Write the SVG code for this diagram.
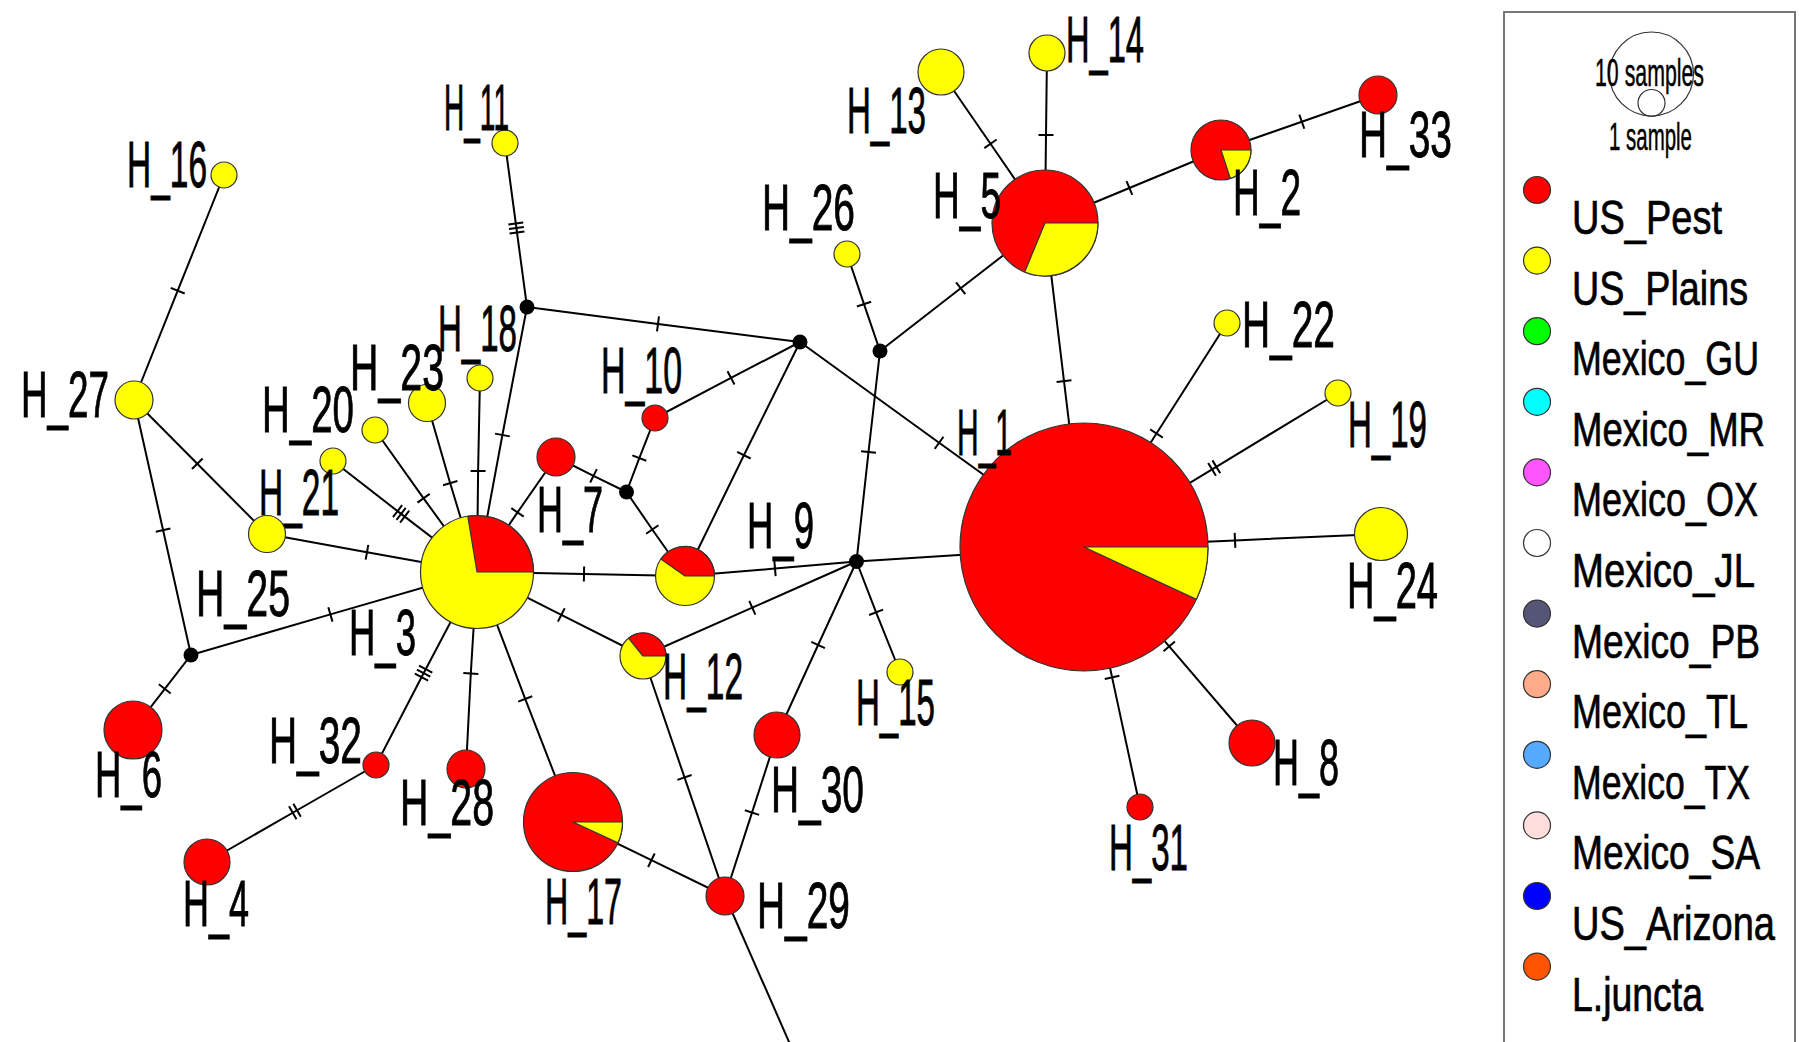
<svg xmlns="http://www.w3.org/2000/svg" width="1799" height="1042" viewBox="0 0 1799 1042">
<style>
.e{stroke:#000;stroke-width:2;fill:none}
.n{stroke:#333;stroke-width:1.2}
.r{fill:#ff0000}
.y{fill:#ffff00}
.w{stroke:#333;stroke-width:1.2;stroke-linejoin:round}
.j{fill:#000}
.l{font-family:"Liberation Sans",Arial,sans-serif;font-size:65px;fill:#000;stroke:#000;stroke-width:0.9}
.lg{font-family:"Liberation Sans",Arial,sans-serif;font-size:49px;fill:#000;stroke:#000;stroke-width:0.7}
.ls{font-family:"Liberation Sans",Arial,sans-serif;font-size:38px;fill:#000;stroke:#000;stroke-width:0.5}
.lc{stroke:#333;stroke-width:1.2}
</style>
<defs>
<marker id="t1" viewBox="-10 -10 20 20" markerWidth="20" markerHeight="20" refX="0" refY="0" orient="auto" markerUnits="userSpaceOnUse"><path d="M0,-7.5V7.5" stroke="#000" stroke-width="2"/></marker>
<marker id="t2" viewBox="-10 -10 20 20" markerWidth="20" markerHeight="20" refX="0" refY="0" orient="auto" markerUnits="userSpaceOnUse"><path d="M-2.5,-7.5V7.5M2.5,-7.5V7.5" stroke="#000" stroke-width="2"/></marker>
<marker id="t3" viewBox="-10 -10 20 20" markerWidth="20" markerHeight="20" refX="0" refY="0" orient="auto" markerUnits="userSpaceOnUse"><path d="M-4.5,-7.5V7.5M0,-7.5V7.5M4.5,-7.5V7.5" stroke="#000" stroke-width="2"/></marker>
</defs>
<rect width="1799" height="1042" fill="#fff"/>
<g id="connectors" class="e">
<path d="M224,175 L177.7,290.7 L134,400" marker-mid="url(#t1)"/>
<path d="M505,143 L516.4,228 L527,307" marker-mid="url(#t3)"/>
<path d="M134,400 L197.3,463.7 L267,534" marker-mid="url(#t1)"/>
<path d="M134,400 L163.1,530.2 L191,655" marker-mid="url(#t1)"/>
<path d="M527,307 L658,323.9 L800,342" marker-mid="url(#t1)"/>
<path d="M527,307 L502.4,435 L477,572" marker-mid="url(#t1)"/>
<path d="M480,378 L478.1,471 L477,572" marker-mid="url(#t1)"/>
<path d="M427,403 L450.2,483.2 L477,572" marker-mid="url(#t1)"/>
<path d="M375,430 L423.6,498.3 L477,572" marker-mid="url(#t1)"/>
<path d="M333,461 L401.1,513.9 L477,572" marker-mid="url(#t3)"/>
<path d="M267,534 L367,552.2 L477,572" marker-mid="url(#t1)"/>
<path d="M191,655 L330.4,614.4 L477,572" marker-mid="url(#t1)"/>
<path d="M191,655 L164.8,688.9 L133,730" marker-mid="url(#t1)"/>
<path d="M477,572 L423.6,673.2 L376,765" marker-mid="url(#t3)"/>
<path d="M376,765 L294.9,811.5 L207,862" marker-mid="url(#t2)"/>
<path d="M477,572 L470.8,673.5 L466,769" marker-mid="url(#t1)"/>
<path d="M477,572 L525.2,698.9 L573,822" marker-mid="url(#t1)"/>
<path d="M477,572 L517.5,512.4 L556,457" marker-mid="url(#t1)"/>
<path d="M556,457 L593.5,475.8 L626.5,492" marker-mid="url(#t1)"/>
<path d="M655,418 L639.3,458.1 L626.5,492" marker-mid="url(#t1)"/>
<path d="M626.5,492 L652.3,529.5 L685,576" marker-mid="url(#t1)"/>
<path d="M655,418 L731,377.9 L800,342" marker-mid="url(#t1)"/>
<path d="M800,342 L743.9,455.2 L685,576" marker-mid="url(#t1)"/>
<path d="M800,342 L939.1,442.8 L1084,547" marker-mid="url(#t1)"/>
<path d="M477,572 L584,574.1 L685,576" marker-mid="url(#t1)"/>
<path d="M477,572 L561.3,614.9 L643,656" marker-mid="url(#t1)"/>
<path d="M685,576 L775,568.6 L856.5,561.5" marker-mid="url(#t1)"/>
<path d="M643,656 L752.3,607.7 L856.5,561.5" marker-mid="url(#t1)"/>
<path d="M643,656 L684.5,777.4 L725,896" marker-mid="url(#t1)"/>
<path d="M573,822 L651.4,860.2 L725,896" marker-mid="url(#t1)"/>
<path d="M725,896 L752,812.6 L777,735" marker-mid="url(#t1)"/>
<path d="M777,735 L818.1,645 L856.5,561.5" marker-mid="url(#t1)"/>
<path d="M856.5,561.5 L876.1,612.3 L900,672" marker-mid="url(#t1)"/>
<path d="M856.5,561.5 L1084,547"/>
<path d="M856.5,561.5 L868.5,452 L880,351" marker-mid="url(#t1)"/>
<path d="M880,351 L864,304.1 L847,254" marker-mid="url(#t1)"/>
<path d="M880,351 L960.7,288.3 L1045,223" marker-mid="url(#t1)"/>
<path d="M1045,223 L990.5,143.8 L941,72" marker-mid="url(#t1)"/>
<path d="M1045,223 L1046,135 L1047,53" marker-mid="url(#t1)"/>
<path d="M1045,223 L1129.4,188 L1221,150" marker-mid="url(#t1)"/>
<path d="M1221,150 L1301.8,121.7 L1378,95" marker-mid="url(#t1)"/>
<path d="M1045,223 L1064,381.1 L1084,547" marker-mid="url(#t1)"/>
<path d="M1084,547 L1156.5,433.5 L1227,323" marker-mid="url(#t1)"/>
<path d="M1084,547 L1214.2,468.1 L1338,393" marker-mid="url(#t2)"/>
<path d="M1084,547 L1235,540.4 L1381,534" marker-mid="url(#t1)"/>
<path d="M1084,547 L1169.2,646.4 L1252,743" marker-mid="url(#t1)"/>
<path d="M1084,547 L1112.1,677.4 L1140,807" marker-mid="url(#t1)"/>
<path d="M725,896 L800,1067"/>
</g>
<g id="median-vectors" class="j">
<circle id="mv1" cx="527" cy="307" r="7.5"/>
<circle id="mv2" cx="800" cy="342" r="7.5"/>
<circle id="mv3" cx="880" cy="351" r="7.5"/>
<circle id="mv4" cx="626.5" cy="492" r="7.5"/>
<circle id="mv5" cx="191" cy="655" r="7.5"/>
<circle id="mv6" cx="856.5" cy="561.5" r="7.5"/>
</g>
<g id="H_1"><circle class="n r" cx="1084" cy="547" r="124"/><path class="w y" d="M1084,547 L1208,547 A124,124 0 0 1 1196.4,599.4 Z"/><text class="l" x="957" y="455" textLength="55" lengthAdjust="spacingAndGlyphs">H_1</text></g>
<g id="H_2"><circle class="n r" cx="1221" cy="150" r="30"/><path class="w y" d="M1221,150 L1251,150 A30,30 0 0 1 1230.3,178.5 Z"/><text class="l" x="1233" y="215" textLength="68" lengthAdjust="spacingAndGlyphs">H_2</text></g>
<g id="H_3"><circle class="n y" cx="477" cy="572" r="56.5"/><path class="w r" d="M477,572 L467.8,516.3 A56.5,56.5 0 0 1 533.5,572 Z"/><text class="l" x="349" y="655" textLength="67" lengthAdjust="spacingAndGlyphs">H_3</text></g>
<g id="H_4"><circle class="n r" cx="207" cy="862" r="23"/><text class="l" x="183" y="926" textLength="66" lengthAdjust="spacingAndGlyphs">H_4</text></g>
<g id="H_5"><circle class="n r" cx="1045" cy="223" r="53"/><path class="w y" d="M1045,223 L1098,223 A53,53 0 0 1 1024.7,272 Z"/><text class="l" x="933" y="218" textLength="68" lengthAdjust="spacingAndGlyphs">H_5</text></g>
<g id="H_6"><circle class="n r" cx="133" cy="730" r="29"/><text class="l" x="95" y="797" textLength="67" lengthAdjust="spacingAndGlyphs">H_6</text></g>
<g id="H_7"><circle class="n r" cx="556" cy="457" r="19"/><text class="l" x="537" y="532" textLength="66" lengthAdjust="spacingAndGlyphs">H_7</text></g>
<g id="H_8"><circle class="n r" cx="1252" cy="743" r="23"/><text class="l" x="1273" y="785" textLength="66" lengthAdjust="spacingAndGlyphs">H_8</text></g>
<g id="H_9"><circle class="n y" cx="685" cy="576" r="29.5"/><path class="w r" d="M685,576 L660.8,559.1 A29.5,29.5 0 0 1 714.5,576 Z"/><text class="l" x="747" y="548" textLength="67" lengthAdjust="spacingAndGlyphs">H_9</text></g>
<g id="H_10"><circle class="n r" cx="655" cy="418" r="13"/><text class="l" x="601" y="393" textLength="81" lengthAdjust="spacingAndGlyphs">H_10</text></g>
<g id="H_11"><circle class="n y" cx="505" cy="143" r="13"/><text class="l" x="444" y="130" textLength="65" lengthAdjust="spacingAndGlyphs">H_11</text></g>
<g id="H_12"><circle class="n y" cx="643" cy="656" r="23"/><path class="w r" d="M643,656 L628.5,638.1 A23,23 0 0 1 666,656 Z"/><text class="l" x="663" y="699" textLength="80" lengthAdjust="spacingAndGlyphs">H_12</text></g>
<g id="H_13"><circle class="n y" cx="941" cy="72" r="23"/><text class="l" x="847" y="133" textLength="79" lengthAdjust="spacingAndGlyphs">H_13</text></g>
<g id="H_14"><circle class="n y" cx="1047" cy="53" r="18"/><text class="l" x="1066" y="62" textLength="78" lengthAdjust="spacingAndGlyphs">H_14</text></g>
<g id="H_15"><circle class="n y" cx="900" cy="672" r="13"/><text class="l" x="856" y="725" textLength="79" lengthAdjust="spacingAndGlyphs">H_15</text></g>
<g id="H_16"><circle class="n y" cx="224" cy="175" r="13"/><text class="l" x="127" y="187" textLength="80" lengthAdjust="spacingAndGlyphs">H_16</text></g>
<g id="H_17"><circle class="n r" cx="573" cy="822" r="49.5"/><path class="w y" d="M573,822 L622.5,822 A49.5,49.5 0 0 1 617.9,842.9 Z"/><text class="l" x="545" y="924" textLength="77" lengthAdjust="spacingAndGlyphs">H_17</text></g>
<g id="H_18"><circle class="n y" cx="480" cy="378" r="13"/><text class="l" x="438" y="351" textLength="79" lengthAdjust="spacingAndGlyphs">H_18</text></g>
<g id="H_19"><circle class="n y" cx="1338" cy="393" r="13"/><text class="l" x="1348" y="447" textLength="79" lengthAdjust="spacingAndGlyphs">H_19</text></g>
<g id="H_20"><circle class="n y" cx="375" cy="430" r="13"/><text class="l" x="262" y="432" textLength="92" lengthAdjust="spacingAndGlyphs">H_20</text></g>
<g id="H_21"><circle class="n y" cx="333" cy="461" r="13"/><text class="l" x="259" y="515" textLength="80" lengthAdjust="spacingAndGlyphs">H_21</text></g>
<g id="H_22"><circle class="n y" cx="1227" cy="323" r="13"/><text class="l" x="1242" y="347" textLength="93" lengthAdjust="spacingAndGlyphs">H_22</text></g>
<g id="H_23"><circle class="n y" cx="427" cy="403" r="18.5"/><text class="l" x="350" y="390" textLength="94" lengthAdjust="spacingAndGlyphs">H_23</text></g>
<g id="H_24"><circle class="n y" cx="1381" cy="534" r="26.5"/><text class="l" x="1347" y="608" textLength="91" lengthAdjust="spacingAndGlyphs">H_24</text></g>
<g id="H_25"><circle class="n y" cx="267" cy="534" r="18.5"/><text class="l" x="196" y="616" textLength="94" lengthAdjust="spacingAndGlyphs">H_25</text></g>
<g id="H_26"><circle class="n y" cx="847" cy="254" r="13"/><text class="l" x="762" y="230" textLength="93" lengthAdjust="spacingAndGlyphs">H_26</text></g>
<g id="H_27"><circle class="n y" cx="134" cy="400" r="19"/><text class="l" x="21" y="417" textLength="88" lengthAdjust="spacingAndGlyphs">H_27</text></g>
<g id="H_28"><circle class="n r" cx="466" cy="769" r="19"/><text class="l" x="400" y="825" textLength="94" lengthAdjust="spacingAndGlyphs">H_28</text></g>
<g id="H_29"><circle class="n r" cx="725" cy="896" r="19"/><text class="l" x="757" y="928" textLength="93" lengthAdjust="spacingAndGlyphs">H_29</text></g>
<g id="H_30"><circle class="n r" cx="777" cy="735" r="23"/><text class="l" x="771" y="812" textLength="93" lengthAdjust="spacingAndGlyphs">H_30</text></g>
<g id="H_31"><circle class="n r" cx="1140" cy="807" r="13"/><text class="l" x="1109" y="870" textLength="79" lengthAdjust="spacingAndGlyphs">H_31</text></g>
<g id="H_32"><circle class="n r" cx="376" cy="765" r="13"/><text class="l" x="269" y="763" textLength="93" lengthAdjust="spacingAndGlyphs">H_32</text></g>
<g id="H_33"><circle class="n r" cx="1378" cy="95" r="19"/><text class="l" x="1359" y="157" textLength="93" lengthAdjust="spacingAndGlyphs">H_33</text></g>
<g id="legend">
<rect x="1504" y="12" width="291" height="1045" fill="none" stroke="#777" stroke-width="2"/>
<circle cx="1651.5" cy="74" r="42" fill="none" class="lc"/>
<circle cx="1651.5" cy="103" r="13.5" fill="none" class="lc"/>
<text class="ls" x="1595" y="86" textLength="109" lengthAdjust="spacingAndGlyphs">10 samples</text>
<text class="ls" x="1609" y="150" textLength="83" lengthAdjust="spacingAndGlyphs">1 sample</text>
<circle class="lc" cx="1537" cy="190" r="13.5" fill="#ff0000"/>
<text class="lg" x="1572" y="234" textLength="150" lengthAdjust="spacingAndGlyphs">US_Pest</text>
<circle class="lc" cx="1537" cy="260.6" r="13.5" fill="#ffff00"/>
<text class="lg" x="1572" y="304.6" textLength="176" lengthAdjust="spacingAndGlyphs">US_Plains</text>
<circle class="lc" cx="1537" cy="331.2" r="13.5" fill="#00ff00"/>
<text class="lg" x="1572" y="375.2" textLength="187" lengthAdjust="spacingAndGlyphs">Mexico_GU</text>
<circle class="lc" cx="1537" cy="401.8" r="13.5" fill="#00ffff"/>
<text class="lg" x="1572" y="445.8" textLength="193" lengthAdjust="spacingAndGlyphs">Mexico_MR</text>
<circle class="lc" cx="1537" cy="472.4" r="13.5" fill="#ff55ff"/>
<text class="lg" x="1572" y="516.4" textLength="186" lengthAdjust="spacingAndGlyphs">Mexico_OX</text>
<circle class="lc" cx="1537" cy="543" r="13.5" fill="#ffffff"/>
<text class="lg" x="1572" y="587" textLength="183" lengthAdjust="spacingAndGlyphs">Mexico_JL</text>
<circle class="lc" cx="1537" cy="613.6" r="13.5" fill="#555577"/>
<text class="lg" x="1572" y="657.6" textLength="188" lengthAdjust="spacingAndGlyphs">Mexico_PB</text>
<circle class="lc" cx="1537" cy="684.2" r="13.5" fill="#ffaa88"/>
<text class="lg" x="1572" y="728.2" textLength="176" lengthAdjust="spacingAndGlyphs">Mexico_TL</text>
<circle class="lc" cx="1537" cy="754.8" r="13.5" fill="#55aaff"/>
<text class="lg" x="1572" y="798.8" textLength="178" lengthAdjust="spacingAndGlyphs">Mexico_TX</text>
<circle class="lc" cx="1537" cy="825.4" r="13.5" fill="#ffdddd"/>
<text class="lg" x="1572" y="869.4" textLength="188" lengthAdjust="spacingAndGlyphs">Mexico_SA</text>
<circle class="lc" cx="1537" cy="896" r="13.5" fill="#0000ff"/>
<text class="lg" x="1572" y="940" textLength="203" lengthAdjust="spacingAndGlyphs">US_Arizona</text>
<circle class="lc" cx="1537" cy="966.6" r="13.5" fill="#ff5500"/>
<text class="lg" x="1572" y="1010.6" textLength="131" lengthAdjust="spacingAndGlyphs">L.juncta</text>
</g>
</svg>
